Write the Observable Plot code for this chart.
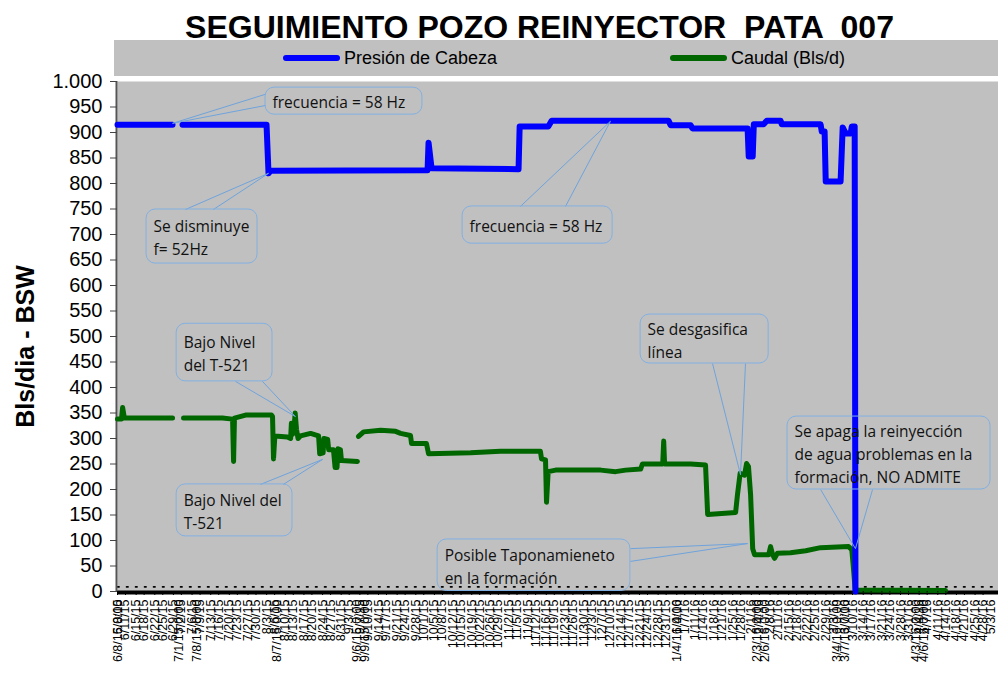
<!DOCTYPE html>
<html>
<head>
<meta charset="utf-8">
<script src="https://cdn.jsdelivr.net/npm/d3@7"></script>
<script src="https://cdn.jsdelivr.net/npm/@observablehq/plot@0.6"></script>
<style>
  body { margin: 0; background: #fff; }
  #wrap { position: relative; width: 998px; height: 680px; overflow: hidden; font-family: Arial, "Liberation Sans", sans-serif; }
  #wrap svg { position: absolute; left: 0; top: 0; }
  #title { position: absolute; left: 0; width: 1079px; top: 9px; text-align: center; white-space: pre;
           font: bold 32px Arial, "Liberation Sans", sans-serif; color: #000; line-height: 36px; }
  #legend { position: absolute; left: 114px; top: 40px; width: 884px; height: 36px; background: #C0C0C0; }
  .item { position: absolute; top: 0; height: 36px; display: flex; align-items: center; font: 18px Arial, "Liberation Sans", sans-serif; color: #000; }
  .swatch { width: 57px; height: 6px; border-radius: 3px; margin-right: 4px; }
</style>
</head>
<body>
<div id="wrap">
  <div id="chart"></div>
  <div id="title"></div>
  <div id="legend"></div>
</div>
<script>
// ---------- DATA ----------
const titulo = "SEGUIMIENTO POZO REINYECTOR  PATA  007";
const series = ["Presión de Cabeza", "Caudal (Bls/d)"];
const colores = ["#0000FF", "#006600"];
const ejeYTitulo = "Bls/dia - BSW";

const xInicio = "2015-06-08 00:00";
const xFin = "2016-05-03 19:00";
const ticksCortosFin = "2016-05-01 00:00";
const yTicks = [0,50,100,150,200,250,300,350,400,450,500,550,600,650,700,750,800,850,900,950,1000];

// long x labels (with time)
const etiquetasLargas = ["2015-06-08 00:00","2015-07-01 00:00","2015-07-08 00:00","2015-08-07 00:00","2015-09-06 00:00","2015-09-09 00:00","2016-01-04 00:00","2016-02-03 00:00","2016-02-06 00:00","2016-03-04 00:00","2016-03-07 00:00","2016-04-03 00:00","2016-04-06 00:00"];
const etiquetaFinal = ["2016-05-03 00:00"];

// Presión de Cabeza
const presionFechas = ["2015-06-08 00:00","2015-06-28 16:00","2015-06-30 12:00","2015-07-02 10:00","2015-08-02 23:00","2015-08-03 17:00","2015-08-04 11:00","2015-10-02 10:00","2015-10-02 19:00","2015-10-03 22:00","2015-11-05 14:00","2015-11-06 00:00","2015-11-16 19:00","2015-11-18 00:00","2015-12-31 22:00","2016-01-01 17:00","2016-01-09 05:00","2016-01-09 22:00","2016-01-30 14:00","2016-01-31 00:00","2016-02-01 12:00","2016-02-01 22:00","2016-02-05 14:00","2016-02-06 19:00","2016-02-12 00:00","2016-02-12 10:00","2016-02-27 00:00","2016-02-27 10:00","2016-02-28 12:00","2016-02-28 22:00","2016-03-05 12:00","2016-03-06 07:00","2016-03-07 10:00","2016-03-09 07:00","2016-03-09 17:00","2016-03-10 19:00","2016-03-11 02:00"];
const presionValores = [915,915,null,915,915,820,825,826,880,830,828,912,912,923,923,914,914,908,908,853,853,916,916,923,923,916,916,902,902,804,804,910,898,898,912,912,0];

// Caudal (Bls/d)
const caudalFechas = ["2015-06-08 00:00","2015-06-09 12:00","2015-06-09 22:00","2015-06-10 14:00","2015-06-28 16:00","2015-06-30 12:00","2015-07-02 19:00","2015-07-17 10:00","2015-07-21 05:00","2015-07-21 14:00","2015-07-21 22:00","2015-07-26 02:00","2015-08-04 19:00","2015-08-05 05:00","2015-08-05 14:00","2015-08-06 02:00","2015-08-10 19:00","2015-08-12 00:00","2015-08-12 07:00","2015-08-12 17:00","2015-08-13 07:00","2015-08-13 17:00","2015-08-14 05:00","2015-08-14 19:00","2015-08-15 17:00","2015-08-19 12:00","2015-08-22 12:00","2015-08-22 22:00","2015-08-24 05:00","2015-08-24 12:00","2015-08-25 22:00","2015-08-26 07:00","2015-08-28 02:00","2015-08-28 17:00","2015-08-29 10:00","2015-08-29 19:00","2015-08-30 17:00","2015-08-31 02:00","2015-09-06 02:00","2015-09-06 07:00","2015-09-06 12:00","2015-09-08 10:00","2015-09-14 19:00","2015-09-20 10:00","2015-09-22 07:00","2015-09-26 00:00","2015-09-26 10:00","2015-10-02 00:00","2015-10-02 19:00","2015-10-18 14:00","2015-10-29 19:00","2015-11-13 19:00","2015-11-14 05:00","2015-11-15 17:00","2015-11-16 02:00","2015-11-16 17:00","2015-11-19 12:00","2015-12-06 10:00","2015-12-12 00:00","2015-12-15 19:00","2015-12-21 10:00","2015-12-22 02:00","2015-12-29 17:00","2015-12-30 02:00","2015-12-30 10:00","2016-01-09 05:00","2016-01-14 19:00","2016-01-15 14:00","2016-01-26 02:00","2016-01-26 19:00","2016-01-27 19:00","2016-01-29 10:00","2016-01-30 05:00","2016-01-30 22:00","2016-01-31 17:00","2016-02-01 12:00","2016-02-02 05:00","2016-02-07 12:00","2016-02-08 05:00","2016-02-09 00:00","2016-02-09 17:00","2016-02-10 19:00","2016-02-15 17:00","2016-02-21 10:00","2016-02-27 00:00","2016-03-08 12:00","2016-03-09 17:00","2016-03-10 05:00","2016-03-11 00:00","2016-04-13 22:00"];
const caudalValores = [338,338,361,340,340,null,340,340,338,255,340,346,346,343,260,305,303,300,330,308,320,350,318,300,305,310,305,270,272,300,298,278,278,243,243,280,278,257,255,null,304,313,316,314,310,306,290,290,270,272,275,275,260,258,175,235,238,238,235,238,240,250,250,295,250,250,248,151,155,190,232,228,251,245,190,84,72,72,88,72,65,75,76,80,86,88,82,53,3,2];

// BSW (dotted series near zero)
const bswFechas = ["2015-06-08 00:00","2016-05-03 19:00"];
const bswValores = [9,9];

// Callouts
const calloutTextos = ["frecuencia = 58 Hz","Se disminuye\nf= 52Hz","frecuencia = 58 Hz","Bajo Nivel\ndel T-521","Bajo Nivel del\nT-521","Se desgasifica\nlínea","Posible Taponamieneto\nen la formación","Se apaga la reinyección\nde agua problemas en la\nformación, NO ADMITE"];
const calloutInicio = ["2015-08-02 14:00","2015-06-18 22:00","2015-10-15 14:00","2015-06-30 05:00","2015-06-30 05:00","2015-12-21 10:00","2015-10-06 05:00","2016-02-14 14:00"];
const calloutFin = ["2015-09-30 12:00","2015-07-30 14:00","2015-12-10 22:00","2015-08-05 05:00","2015-08-12 17:00","2016-02-07 12:00","2015-12-17 14:00","2016-04-30 19:00"];
const calloutArriba = [988,749,755,525,210,543,102,343];
const calloutAbajo = [935,643,682,412,108,447,1,200];
const puntaFecha = ["2015-06-28 16:00","2015-08-03 17:00","2015-12-10 02:00","2015-08-13 19:00","2015-08-24 00:00","2016-01-27 22:00","2016-01-30 14:00","2016-03-11 02:00"];
const puntaValor = [918,820,922,343,259,229,94,84];
const baseAFecha = ["2015-08-02 14:00","2015-07-03 12:00","2015-11-06 07:00","2015-07-22 07:00","2015-07-31 17:00","2016-01-17 10:00","2015-12-17 14:00","2016-02-27 00:00"];
const baseAValor = [975,749,755,412,210,447,84,200];
const baseBFecha = ["2015-08-02 14:00","2015-07-14 00:00","2015-11-23 05:00","2015-08-01 10:00","2015-08-09 07:00","2016-01-29 19:00","2015-12-17 14:00","2016-03-17 12:00"];
const baseBValor = [953,749,755,412,210,447,59,200];

// ---------- BUILD ----------
const parse = d3.utcParse("%Y-%m-%d %H:%M");
const x0 = parse(xInicio), x1 = parse(xFin);
const presion = presionFechas.map((f, i) => ({fecha: parse(f), valor: presionValores[i]}));
const caudal = caudalFechas.map((f, i) => ({fecha: parse(f), valor: caudalValores[i]}));
const bsw = bswFechas.map((f, i) => ({fecha: parse(f), valor: bswValores[i]}));
const callouts = calloutTextos.map((t, i) => ({
  texto: t, xa: parse(calloutInicio[i]), xb: parse(calloutFin[i]),
  ya: calloutArriba[i], yb: calloutAbajo[i], ym: (calloutArriba[i] + calloutAbajo[i]) / 2
}));
const cunas = [];
calloutTextos.forEach((t, i) => {
  cunas.push({xa: parse(baseAFecha[i]), ya: baseAValor[i], xb: parse(puntaFecha[i]), yb: puntaValor[i]});
  cunas.push({xa: parse(baseBFecha[i]), ya: baseBValor[i], xb: parse(puntaFecha[i]), yb: puntaValor[i]});
});
const xCortoFin = parse(ticksCortosFin);
const ticksCortos = d3.merge([d3.utcMonday.range(x0, xCortoFin), d3.utcThursday.range(x0, xCortoFin)]).sort((a, b) => a - b);
const ticksLargos = etiquetasLargas.map(parse);
const ticksFinal = etiquetaFinal.map(parse);
const fmtY = d3.formatLocale({decimal: ",", thousands: ".", grouping: [3], currency: ["$", ""]}).format(",");
const fmtLargo = d3.utcFormat("%-m/%-d/%y %-H:%M");

const chart = Plot.plot({
  width: 998, height: 680,
  marginTop: 81, marginBottom: 89, marginLeft: 117, marginRight: 0,
  style: {fontFamily: "Arial, 'Liberation Sans', sans-serif", color: "#000", background: "transparent", overflow: "visible"},
  x: {type: "utc", domain: [x0, x1]},
  y: {domain: [0, 1000]},
  marks: [
    Plot.frame({fill: "#C0C0C0", stroke: "none"}),
    Plot.line(bsw, {x: "fecha", y: "valor", stroke: "#000", strokeWidth: 1.6, strokeDasharray: "1.6 7.4"}),
    Plot.ruleY([0], {stroke: "#000", strokeWidth: 4, dy: 1}),
    Plot.ruleX([x0], {stroke: "#555", strokeWidth: 2, dx: -1}),
    Plot.line(caudal, {x: "fecha", y: "valor", stroke: colores[1], strokeWidth: 5, strokeLinecap: "round", strokeLinejoin: "round"}),
    Plot.line(presion, {x: "fecha", y: "valor", stroke: colores[0], strokeWidth: 6, strokeLinecap: "round", strokeLinejoin: "round"}),
    Plot.link(cunas, {x1: "xa", y1: "ya", x2: "xb", y2: "yb", stroke: "#6FA3DC", strokeWidth: 1}),
    Plot.rect(callouts, {x1: "xa", x2: "xb", y1: "ya", y2: "yb", fill: "none", stroke: "#82B0E2", strokeWidth: 1, rx: 9}),
    Plot.text(callouts, {x: "xa", y: "ym", text: "texto", textAnchor: "start", lineAnchor: "middle", dx: 7, fontSize: 15.5, lineHeight: 1.48, fill: "#111", fontFamily: "'Open Sans', 'Noto Sans', sans-serif"}),
    Plot.axisY({ticks: yTicks, tickFormat: fmtY, fontSize: 20, tickSize: 7, tickPadding: 8, label: null, stroke: "#444"}),
    Plot.axisX({ticks: ticksCortos, tickFormat: d3.utcFormat("%-m/%-d/%y"), tickRotate: -90, tickSize: 4, tickPadding: 4, fontSize: 12.5, label: null, strokeDasharray: "1.5 1"}),
    Plot.axisX({ticks: ticksLargos, tickFormat: fmtLargo, tickRotate: -90, tickSize: 0, tickPadding: 8, fontSize: 12.5, label: null}),
    Plot.axisX({ticks: ticksFinal, tickFormat: d3.utcFormat("%-m/%-d/%y"), tickRotate: -90, tickSize: 0, tickPadding: 8, fontSize: 12.5, label: null, dx: -5}),
    Plot.text([ejeYTitulo], {frameAnchor: "left", textAnchor: "middle", dx: -92, dy: 10, rotate: -90, fontSize: 25, fontWeight: "bold", fill: "#000"})
  ]
});
document.getElementById("chart").appendChild(chart);

document.getElementById("title").textContent = titulo;
const legend = document.getElementById("legend");
const legendPos = [169, 556];
series.forEach((s, i) => {
  const it = document.createElement("div");
  it.className = "item";
  it.style.left = legendPos[i] + "px";
  const sw = document.createElement("div");
  sw.className = "swatch";
  sw.style.background = colores[i];
  const tx = document.createElement("span");
  tx.textContent = s;
  it.appendChild(sw); it.appendChild(tx);
  legend.appendChild(it);
});
</script>
</body>
</html>
